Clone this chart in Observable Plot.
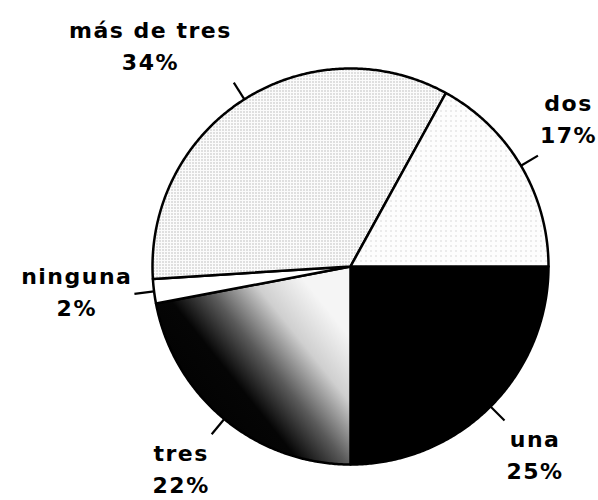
<!DOCTYPE html>
<html>
<head>
<meta charset="utf-8">
<script src="https://cdn.jsdelivr.net/npm/d3@7"></script>
<script src="https://cdn.jsdelivr.net/npm/@observablehq/plot@0.6"></script>
<style>
  html, body { margin: 0; padding: 0; background: #fff; }
</style>
</head>
<body>
<div id="chart"></div>
<script>
// ---- data ----
const categories = ["una", "tres", "ninguna", "más de tres", "dos"];
const values = [25, 22, 2, 34, 17];
const percentLabels = ["25%", "22%", "2%", "34%", "17%"];

// ---- styles ----
const fills = ["#000", "url(#gTres)", "#fff", "url(#pMas)", "url(#pDos)"];
const FONT = "'DejaVu Sans', sans-serif";
const FONT_SIZE = 22;
const LETTER = 1.5;

// ---- layout ----
const W = 598, H = 500, CX = 350, CY = 266, R = 198;

const total = d3.sum(values);
// angles in degrees, clockwise from east (screen)
let acc = 0;
const slices = categories.map((c, i) => {
  const a0 = acc / total * 360;
  acc += values[i];
  const a1 = acc / total * 360;
  return {key: c, value: values[i], a0, a1, mid: (a0 + a1) / 2, fill: fills[i],
          label: c + "\n" + percentLabels[i]};
});

const rad = a => a * Math.PI / 180;
// unit coords (y up): clockwise screen angle -> negative math angle
const ux = (a, r = 1) => r * Math.cos(rad(a));
const uy = (a, r = 1) => -r * Math.sin(rad(a));

function slicePoints(s) {
  const pts = [{x: 0, y: 0}];
  const n = Math.max(2, Math.ceil((s.a1 - s.a0) / 0.5));
  for (let k = 0; k <= n; k++) {
    const a = s.a0 + (s.a1 - s.a0) * k / n;
    pts.push({x: ux(a), y: uy(a)});
  }
  pts.push({x: 0, y: 0});
  return pts;
}

// measure label widths
const ctx = document.createElement("canvas").getContext("2d");
ctx.font = `bold ${FONT_SIZE}px ${FONT}`;
const TICK_OUT = 1.1;
const labels = slices.map(s => {
  const lines = s.label.split("\n");
  const w = d3.max(lines, l => ctx.measureText(l).width + LETTER * l.length);
  const ex = TICK_OUT * R * Math.cos(rad(s.mid));
  const ey = TICK_OUT * R * Math.sin(rad(s.mid));
  const side = Math.cos(rad(s.mid)) >= 0 ? 1 : -1;
  const sn = Math.sin(rad(s.mid));
  const px = ex + side * (w / 2 + 2);
  const py = ey + (Math.abs(sn) < 0.3 ? -4 : (sn > 0 ? 32 : -39));
  return {text: s.label, x: px / R, y: -py / R};
});

const marks = slices.map(s =>
  Plot.line(slicePoints(s), {
    x: "x", y: "y", fill: s.fill, stroke: "#000", strokeWidth: 2.5,
    strokeLinejoin: "round", curve: "linear"
  })
);
marks.push(Plot.link(slices, {
  x1: d => ux(d.mid, 1), y1: d => uy(d.mid, 1),
  x2: d => ux(d.mid, TICK_OUT), y2: d => uy(d.mid, TICK_OUT),
  stroke: "#000", strokeWidth: 2.2
}));
marks.push(Plot.text(labels, {
  x: "x", y: "y", text: "text", textAnchor: "middle", lineAnchor: "middle",
  lineHeight: 32 / FONT_SIZE, fontSize: FONT_SIZE, fontWeight: "bold",
  fontFamily: FONT, fill: "#000"
}));

const svg = Plot.plot({
  width: W, height: H,
  margin: 0,
  style: {background: "#fff", letterSpacing: LETTER + "px", overflow: "visible"},
  x: {domain: [-CX / R, (W - CX) / R], range: [0, W], axis: null},
  y: {domain: [-(H - CY) / R, CY / R], range: [H, 0], axis: null},
  marks
});

// pattern / gradient definitions
const defs = d3.create("svg:defs");
const gt = defs.append("linearGradient").attr("id", "gTres")
  .attr("x1", 0.15).attr("y1", 0.95).attr("x2", 0.95).attr("y2", 0.3);
[[0, "#000"], [0.42, "#050505"], [0.6, "#5a5a5a"], [0.8, "#cfcfcf"], [1, "#f5f5f5"]]
  .forEach(([o, c]) => gt.append("stop").attr("offset", o).attr("stop-color", c));
const pm = defs.append("pattern").attr("id", "pMas").attr("patternUnits", "userSpaceOnUse")
  .attr("width", 3).attr("height", 3);
pm.append("rect").attr("width", 3).attr("height", 3).attr("fill", "#fbfbfb");
pm.append("rect").attr("width", 1).attr("height", 1).attr("fill", "#8a8a8a");
const pd = defs.append("pattern").attr("id", "pDos").attr("patternUnits", "userSpaceOnUse")
  .attr("width", 5).attr("height", 5);
pd.append("rect").attr("width", 5).attr("height", 5).attr("fill", "#fdfdfd");
pd.append("rect").attr("width", 1).attr("height", 1).attr("fill", "#b5b5b5");
svg.insertBefore(defs.node(), svg.firstChild);

document.getElementById("chart").appendChild(svg);
</script>
</body>
</html>
